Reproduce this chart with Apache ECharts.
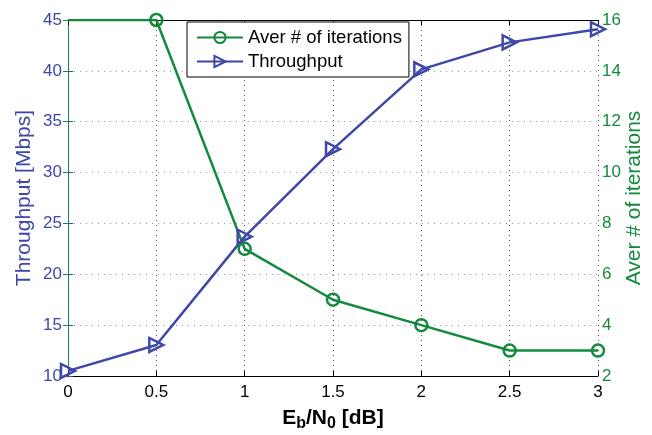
<!DOCTYPE html>
<html style="height: 100%">
<head>
<meta charset="utf-8">
</head>
<body style="height: 100%; margin: 0; background: #fff">
<div id="container" style="width: 652px; height: 435px"></div>
<script type="text/javascript" src="https://cdn.jsdelivr.net/npm/echarts@6/dist/echarts.min.js"></script>
<script type="text/javascript">
var blue = '#3f47a8';
var green = '#148a3c';
var font = 'Liberation Sans';

// x values: Eb/N0 in dB
var snr = [0, 0.5, 1, 1.5, 2, 2.5, 3];
var throughput = [10.5, 13.05, 23.7, 32.3, 40.15, 42.8, 44.1];
var iterations = [16, 16, 7, 5, 4, 3, 3];

var myChart = echarts.init(document.getElementById('container'));

function pairs(xs, ys) {
    return xs.map(function (x, i) { return [x, ys[i]]; });
}

var iterData = pairs(snr, iterations);
// no marker drawn on the first point in the original
iterData[0] = { value: iterData[0], symbol: 'none' };

var option = {
    animation: false,
    textStyle: { fontFamily: font },
    grid: { left: 68, right: 54, top: 20, bottom: 59, outerBoundsMode: 'none' },
    legend: {
        orient: 'vertical',
        left: 187,
        top: 22,
        width: 223,
        backgroundColor: '#fff',
        borderColor: '#000',
        borderWidth: 1,
        borderRadius: 0,
        padding: [6, 7, 6, 9],
        itemGap: 5,
        itemWidth: 46,
        itemHeight: 14,
        textStyle: { fontSize: 18.5, color: '#000', fontFamily: font },
        data: ['Aver # of iterations', 'Throughput']
    },
    xAxis: [{
        type: 'value',
        min: 0,
        max: 3,
        interval: 0.5,
        name: '{a|E}{s|b}{a|/N}{s|0}{a| [dB]}',
        nameLocation: 'middle',
        nameGap: 28,
        nameTextStyle: {
            rich: {
                a: { fontSize: 21, fontWeight: 'bold', color: '#000', fontFamily: font },
                s: { fontSize: 16, fontWeight: 'bold', color: '#000', fontFamily: font, padding: [12, 0, 0, 0] }
            }
        },
        axisLine: { lineStyle: { color: '#000', width: 1 } },
        axisTick: { inside: true, length: 5, lineStyle: { color: '#000' } },
        axisLabel: { fontSize: 17, color: '#000', margin: 8 },
        splitLine: { show: true, lineStyle: { color: '#555', type: [1, 4], width: 1 } }
    }, {
        type: 'value',
        position: 'top',
        min: 0,
        max: 3,
        interval: 0.5,
        axisLine: { show: true, lineStyle: { color: '#000', width: 1 } },
        axisTick: { show: true, inside: true, length: 5, lineStyle: { color: '#000' } },
        axisLabel: { show: false },
        splitLine: { show: false }
    }],
    yAxis: [{
        type: 'value',
        min: 10,
        max: 45,
        interval: 5,
        name: 'Throughput [Mbps]',
        nameLocation: 'middle',
        nameGap: 33,
        nameMoveOverlap: false,
        nameTextStyle: { fontSize: 21, color: blue, fontFamily: font },
        axisLine: { show: true, lineStyle: { color: blue, width: 1 } },
        axisTick: { show: true, inside: true, length: 5, lineStyle: { color: blue } },
        axisLabel: { fontSize: 17, color: blue, margin: 6 },
        splitLine: { show: true, lineStyle: { color: '#8c90d0', type: [1, 5], width: 1 } }
    }, {
        type: 'value',
        min: 2,
        max: 16,
        interval: 2,
        position: 'right',
        name: 'Aver # of iterations',
        nameLocation: 'middle',
        nameGap: 26,
        nameMoveOverlap: false,
        nameRotate: 90,
        nameTextStyle: { fontSize: 21, color: green, fontFamily: font },
        axisLine: { show: true, lineStyle: { color: green, width: 1 } },
        axisTick: { show: true, inside: true, length: 5, lineStyle: { color: green } },
        axisLabel: { fontSize: 17, color: green, margin: 4 },
        splitLine: { show: false }
    }],
    series: [{
        name: 'Aver # of iterations',
        type: 'line',
        yAxisIndex: 1,
        data: iterData,
        symbol: 'circle',
        symbolSize: 12,
        showAllSymbol: true,
        lineStyle: { color: green, width: 2.5 },
        itemStyle: { color: 'none', borderColor: green, borderWidth: 2.5 },
        z: 3
    }, {
        name: 'Throughput',
        type: 'line',
        yAxisIndex: 0,
        data: pairs(snr, throughput),
        symbol: 'triangle',
        symbolRotate: -90,
        symbolSize: 14,
        showAllSymbol: true,
        lineStyle: { color: blue, width: 2.5 },
        itemStyle: { color: 'none', borderColor: blue, borderWidth: 2.5 },
        z: 3
    }]
};

myChart.setOption(option);
</script>
</body>
</html>
